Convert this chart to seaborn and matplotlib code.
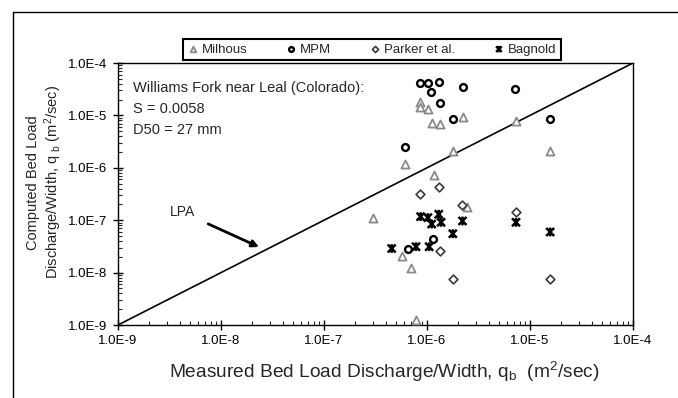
import numpy as np
import pandas as pd
import seaborn as sns
import matplotlib.pyplot as plt
from matplotlib.path import Path
from matplotlib.lines import Line2D
from matplotlib.ticker import LogLocator, FuncFormatter, NullFormatter

# values (m2/sec), measured vs computed
milhous_x = [8.55e-7, 8.55e-7, 1.02e-6, 1.11e-6, 1.34e-6, 2.22e-6, 1.78e-6, 6.07e-7,
             1.16e-6, 7.25e-6, 1.56e-5, 3.01e-7, 2.46e-6, 5.75e-7, 7.0e-7, 7.82e-7]
milhous_y = [1.83e-5, 1.47e-5, 1.32e-5, 7.07e-6, 6.86e-6, 9.2e-6, 2.09e-6, 1.18e-6,
             7.29e-7, 7.93e-6, 2.12e-6, 1.09e-7, 1.81e-7, 2.10e-8, 1.21e-8, 1.25e-9]

mpm_x = [8.55e-7, 1.02e-6, 1.30e-6, 1.09e-6, 2.22e-6, 1.34e-6, 1.78e-6, 6.07e-7,
         7.23e-6, 1.56e-5, 1.14e-6, 6.55e-7]
mpm_y = [4.21e-5, 4.10e-5, 4.28e-5, 2.80e-5, 3.53e-5, 1.70e-5, 8.43e-6, 2.46e-6,
         3.15e-5, 8.43e-6, 4.38e-8, 2.82e-8]

parker_x = [8.6e-7, 1.32e-6, 2.19e-6, 7.31e-6, 1.34e-6, 1.78e-6, 1.57e-5]
parker_y = [3.2e-7, 4.25e-7, 1.92e-7, 1.45e-7, 2.55e-8, 7.55e-9, 7.55e-9]

bagnold_x = [8.66e-7, 1.02e-6, 1.30e-6, 1.11e-6, 1.37e-6, 2.21e-6, 1.78e-6, 7.31e-6,
             1.57e-5, 4.54e-7, 7.82e-7, 1.05e-6]
bagnold_y = [1.17e-7, 1.12e-7, 1.30e-7, 8.46e-8, 9.12e-8, 9.66e-8, 5.52e-8, 9.12e-8,
             5.96e-8, 2.88e-8, 3.12e-8, 3.12e-8]

lpa = [1e-9, 1e-4]

sns.set_theme(style="white")
plt.rcParams["font.family"] = ["Liberation Sans", "DejaVu Sans"]
plt.rcParams["mathtext.fontset"] = "custom"
plt.rcParams["mathtext.rm"] = "Liberation Sans"
plt.rcParams["mathtext.it"] = "Liberation Sans"

# x with a vertical bar (excel star marker)
star = Path([(-1, -1), (1, 1), (-1, 1), (1, -1), (0, -1.1), (0, 1.1)],
            [Path.MOVETO, Path.LINETO, Path.MOVETO, Path.LINETO, Path.MOVETO, Path.LINETO])

fig = plt.figure(figsize=(6.78, 3.98), dpi=100)
# outer frame (only top and left edges fall inside the picture)
fx, fy = 12.5 / 678, 1 - 11.5 / 398
fig.add_artist(Line2D([fx, 1.0], [fy, fy], transform=fig.transFigure, color="black", lw=1))
fig.add_artist(Line2D([fx, fx], [0.0, fy], transform=fig.transFigure, color="black", lw=1))

ax = fig.add_axes([118 / 678, 1 - 325 / 398, 515 / 678, 262 / 398])

ax.plot(lpa, lpa, color="black", lw=1.2, zorder=1)

sns.scatterplot(x=mpm_x, y=mpm_y, ax=ax, marker="o", s=24, facecolor="white",
                edgecolor="black", linewidth=1.7, label="MPM", zorder=2)
sns.scatterplot(x=milhous_x, y=milhous_y, ax=ax, marker="^", s=34, facecolor="white",
                edgecolor="#8a8a8a", linewidth=1.3, label="Milhous", zorder=3)
sns.scatterplot(x=parker_x, y=parker_y, ax=ax, marker="D", s=20, facecolor="white",
                edgecolor="#3a3a3a", linewidth=1.2, label="Parker et al.", zorder=3)
sns.scatterplot(x=bagnold_x, y=bagnold_y, ax=ax, marker=star, s=40, facecolor="none",
                edgecolor="black", linewidth=1.8, label="Bagnold", zorder=4)

ax.set_xscale("log")
ax.set_yscale("log")
ax.set_xlim(1e-9, 1e-4)
ax.set_ylim(1e-9, 1e-4)

def sci(v, pos):
    m, e = f"{v:.1E}".split("E")
    return f"{m}E{int(e)}"

for axis in (ax.xaxis, ax.yaxis):
    axis.set_major_locator(LogLocator(base=10, numticks=10))
    axis.set_minor_locator(LogLocator(base=10, subs=np.arange(2, 10), numticks=10))
    axis.set_major_formatter(FuncFormatter(sci))
    axis.set_minor_formatter(NullFormatter())

ax.tick_params(which="major", direction="inout", length=7, width=1, labelsize=9.5,
               colors="black", bottom=True, left=True, pad=4)
ax.tick_params(which="minor", direction="in", length=3, width=0.8, bottom=True, left=True)
for sp in ax.spines.values():
    sp.set_color("black")
    sp.set_linewidth(1.0)

ax.set_xlabel(r"Measured Bed Load Discharge/Width, q$_{\rm b}$  (m$^2$/sec)", fontsize=13.8)
ax.xaxis.set_label_coords(0.518, -0.135)
ax.set_ylabel("Computed Bed Load\n" + r"Discharge/Width, q $_{\rm b}$ (m$^2$/sec)",
              fontsize=10.5)
ax.yaxis.set_label_coords(-0.104, 0.545)

ax.text(0.029, 0.93, "Williams Fork near Leal (Colorado):\nS = 0.0058\nD50 = 27 mm",
        transform=ax.transAxes, ha="left", va="top", fontsize=10.5, linespacing=1.6)

ax.annotate("LPA", xy=(2.34e-8, 3.08e-8), xytext=(4.2e-9, 1.43e-7), fontsize=10,
            ha="center", va="center",
            arrowprops=dict(arrowstyle="-|>", color="black", lw=2, mutation_scale=10,
                            shrinkA=8, shrinkB=0))

h, l = ax.get_legend_handles_labels()
order = [l.index(n) for n in ["Milhous", "MPM", "Parker et al.", "Bagnold"]]
leg = ax.legend([h[i] for i in order], [l[i] for i in order], ncol=4,
                loc="center", bbox_to_anchor=(372 / 678, 1 - 49.5 / 398),
                bbox_transform=fig.transFigure, fontsize=9.5, markerscale=0.7,
                frameon=True, fancybox=False, framealpha=1, edgecolor="black",
                handlelength=0.8, handletextpad=0.3, columnspacing=2.9, borderpad=0.35)
leg.get_frame().set_linewidth(1.5)

fig.savefig("out.png", dpi=100)
